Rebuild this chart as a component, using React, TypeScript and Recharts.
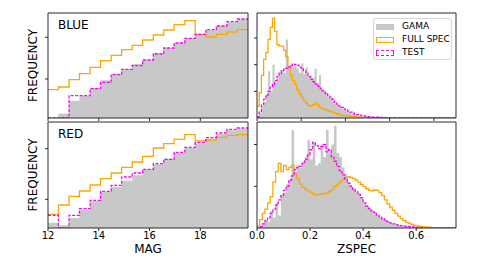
import React from 'react';
import { ComposedChart, Area, Line, XAxis, YAxis, Legend } from 'recharts';

// ---------- DATA ----------
// Magnitude histogram bin edges (left panels)
const magEdges = [12.0, 12.41, 12.83, 13.24, 13.66, 14.07, 14.49, 14.9, 15.32, 15.73, 16.15, 16.56, 16.97, 17.39, 17.8, 18.22, 18.63, 19.05, 19.46, 19.88];
const magTicks = [12, 14, 16, 18];
const magTickLabels = ['12', '14', '16', '18'];

// BLUE, MAG histograms (relative frequency, log-like units)
const blueMagGama = [0, 13, 52, 67, 90, 113, 133, 147, 162, 175, 195, 210, 225, 240, 250, 263, 277, 287, 297];
const blueMagFull = [85, 93, 115, 133, 152, 172, 188, 205, 218, 234, 249, 264, 280, 292, 251, 243, 251, 258, 265];
const blueMagTest = [0, 0, 67, 67, 88, 107, 130, 146, 157, 174, 192, 210, 225, 239, 251, 265, 276, 289, 297];

// RED, MAG histograms
const redMagGama = [16, 8, 30, 55, 81, 108, 123, 142, 158, 176, 191, 208, 225, 240, 253, 268, 282, 293, 298];
const redMagFull = [41, 69, 95, 111, 129, 148, 165, 182, 198, 215, 240, 253, 266, 280, 261, 264, 272, 278, 280];
const redMagTest = [38, 0, 38, 58, 83, 110, 128, 153, 165, 176, 193, 206, 227, 242, 256, 271, 285, 296, 300];

// Redshift bin edges
const zEdgesBlue = [
  0, 0.01, 0.02, 0.03, 0.04, 0.05, 0.06, 0.07, 0.08, 0.09,
  0.1, 0.11, 0.12, 0.13, 0.14, 0.15, 0.16, 0.17, 0.18, 0.19,
  0.2, 0.21, 0.22, 0.23, 0.24, 0.25, 0.26, 0.27, 0.28, 0.29,
  0.3, 0.31, 0.32, 0.33, 0.34, 0.35, 0.36, 0.37, 0.38, 0.39,
  0.4, 0.41, 0.42, 0.43, 0.44, 0.45, 0.46, 0.47, 0.48, 0.49,
  0.5, 0.51, 0.52, 0.53, 0.54, 0.55, 0.56, 0.57, 0.58, 0.59,
  0.6, 0.61, 0.62, 0.63, 0.64, 0.65, 0.66, 0.67, 0.68, 0.69,
  0.7, 0.71, 0.72, 0.73, 0.74, 0.75, 0.76, 0.77, 0.78, 0.79,
  0.8, 0.81, 0.82, 0.83, 0.84, 0.85, 0.86, 0.87, 0.88, 0.89,
  0.9,
];
const zEdgesRed = [
  0, 0.01, 0.02, 0.03, 0.04, 0.05, 0.06, 0.07, 0.08, 0.09,
  0.1, 0.11, 0.12, 0.13, 0.14, 0.15, 0.16, 0.17, 0.18, 0.19,
  0.2, 0.21, 0.22, 0.23, 0.24, 0.25, 0.26, 0.27, 0.28, 0.29,
  0.3, 0.31, 0.32, 0.33, 0.34, 0.35, 0.36, 0.37, 0.38, 0.39,
  0.4, 0.41, 0.42, 0.43, 0.44, 0.45, 0.46, 0.47, 0.48, 0.49,
  0.5, 0.51, 0.52, 0.53, 0.54, 0.55, 0.56, 0.57, 0.58, 0.59,
  0.6, 0.61, 0.62, 0.63, 0.64, 0.65, 0.66, 0.67, 0.68, 0.69,
  0.7, 0.71, 0.72, 0.73, 0.74, 0.75,
];
const zTicksBlue = [0, 0.2, 0.4, 0.6, 0.8];
const zTicksRed = [0, 0.2, 0.4, 0.6];
const zTickLabels = ['0.0', '0.2', '0.4', '0.6'];

// BLUE, ZSPEC densities
const blueZGama = [
  0.05, 0.2, 0.45, 0.6, 0.9, 1.75, 1.0, 2.0, 1.3, 1.5,
  1.7, 1.8, 1.7, 2.95, 1.85, 2.0, 1.9, 1.95, 1.85, 1.7,
  2.05, 1.65, 1.9, 1.5, 1.6, 1.5, 1.85, 1.3, 1.6, 1.1,
  1.0, 0.95, 0.8, 0.75, 0.65, 0.55, 0.48, 0.4, 0.36, 0.3,
  0.26, 0.22, 0.18, 0.15, 0.12, 0.1, 0.08, 0.06, 0.05, 0.04,
  0.03, 0.03, 0.02, 0.02, 0.02, 0.02, 0.01, 0.01, 0.01, 0.01,
  0, 0, 0, 0, 0, 0, 0, 0, 0, 0,
  0, 0, 0, 0, 0, 0, 0, 0, 0, 0,
  0, 0, 0, 0, 0, 0, 0, 0, 0, 0,
];
const blueZFull = [
  0.45, 0.95, 1.6, 2.2, 2.45, 2.95, 3.4, 3.75, 3.25, 2.75,
  2.7, 2.7, 2.55, 2.3, 1.9, 1.6, 1.4, 1.25, 1.05, 0.9,
  0.78, 0.65, 0.55, 0.47, 0.45, 0.5, 0.56, 0.5, 0.42, 0.36,
  0.33, 0.3, 0.27, 0.24, 0.21, 0.18, 0.15, 0.13, 0.11, 0.1,
  0.08, 0.07, 0.06, 0.05, 0.04, 0.03, 0.03, 0.02, 0.02, 0.01,
  0.01, 0, 0, 0, 0, 0, 0, 0, 0, 0,
  0, 0, 0, 0, 0, 0, 0, 0, 0, 0,
  0, 0, 0, 0, 0, 0, 0, 0, 0, 0,
  0, 0, 0, 0, 0, 0, 0, 0, 0, 0,
];
const blueZTest = [
  0.05, 0.25, 0.5, 0.7, 0.85, 1.0, 1.15, 1.25, 1.4, 1.55,
  1.68, 1.78, 1.82, 1.86, 1.92, 1.97, 2.03, 2.0, 1.98, 1.9,
  1.84, 1.78, 1.7, 1.55, 1.45, 1.36, 1.27, 1.2, 1.12, 1.03,
  0.97, 0.9, 0.84, 0.78, 0.7, 0.6, 0.52, 0.45, 0.4, 0.34,
  0.3, 0.26, 0.22, 0.18, 0.15, 0.13, 0.11, 0.09, 0.08, 0.06,
  0.05, 0.04, 0.03, 0.03, 0.03, 0.02, 0.02, 0.02, 0.01, 0.01,
  0, 0, 0, 0, 0, 0, 0, 0, 0, 0,
  0, 0, 0, 0, 0, 0, 0, 0, 0, 0,
  0, 0, 0, 0, 0, 0, 0, 0, 0, 0,
];

// RED, ZSPEC densities
const redZGama = [
  0.05, 0.1, 0.25, 0.4, 0.3, 0.8, 0.5, 1.2, 0.6, 1.6,
  1.7, 2.1, 2.3, 4.7, 2.7, 3.0, 2.9, 3.2, 3.4, 4.2,
  3.3, 4.1, 3.0, 3.1, 4.0, 3.4, 4.7, 3.6, 4.0, 4.9,
  3.6, 3.4, 2.9, 2.6, 2.2, 2.0, 1.9, 1.7, 1.65, 1.4,
  1.2, 1.1, 1.0, 0.85, 0.75, 0.62, 0.5, 0.45, 0.38, 0.3,
  0.25, 0.2, 0.16, 0.12, 0.1, 0.08, 0.07, 0.05, 0.04, 0.03,
  0.02, 0.01, 0, 0, 0, 0, 0, 0, 0, 0,
  0, 0, 0, 0, 0,
];
const redZFull = [
  0.1, 0.4, 0.7, 0.9, 1.2, 1.5, 2.2, 2.7, 3.1, 2.7,
  3.0, 2.8, 2.9, 3.0, 2.6, 2.35, 2.1, 1.95, 1.85, 1.78,
  1.7, 1.62, 1.58, 1.62, 1.65, 1.62, 1.68, 1.75, 1.85, 2.0,
  2.1, 2.2, 2.32, 2.4, 2.46, 2.42, 2.38, 2.3, 2.2, 2.08,
  1.98, 1.88, 1.8, 1.78, 1.82, 1.8, 1.7, 1.55, 1.35, 1.15,
  1.0, 0.85, 0.7, 0.57, 0.45, 0.36, 0.28, 0.22, 0.17, 0.13,
  0.1, 0.08, 0.06, 0.05, 0.04, 0.03, 0.02, 0.02, 0.01, 0.01,
  0, 0, 0, 0, 0,
];
const redZTest = [
  0, 0.07, 0.2, 0.35, 0.5, 0.7, 0.9, 1.1, 1.35, 1.55,
  1.8, 2.0, 2.3, 2.5, 2.8, 2.9, 2.95, 3.1, 3.3, 3.5,
  3.75, 4.1, 3.95, 3.8, 3.9, 4.0, 3.65, 3.75, 3.4, 3.2,
  2.95, 2.75, 2.55, 2.35, 2.15, 2.0, 1.85, 1.75, 1.6, 1.45,
  1.2, 1.05, 0.92, 0.82, 0.75, 0.62, 0.52, 0.45, 0.38, 0.3,
  0.25, 0.2, 0.16, 0.13, 0.11, 0.09, 0.08, 0.07, 0.05, 0.04,
  0.03, 0.02, 0.01, 0, 0, 0, 0, 0, 0, 0,
  0, 0, 0, 0, 0,
];

const seriesKeys = ['gama', 'full', 'test'];
const seriesNames = { gama: 'GAMA', full: 'FULL SPEC', test: 'TEST' };

// ---------- STYLE ----------
const FONT = '"DejaVu Sans", sans-serif';
const GRAY = '#c8c8c8';
const ORANGE = '#ffa500';
const MAGENTA = '#ff00ff';
const SPINE = '#2b2b2b';

type Row = { x: number; gama: number; full: number; test: number };

function buildRows(edges: number[], gama: number[], full: number[], test: number[]): Row[] {
  return edges.map((x, i) => {
    const j = Math.min(i, gama.length - 1);
    return { x, gama: gama[j], full: full[j], test: test[j] };
  });
}

const NoTickLabel = () => <g />;

const YTitle = (props: any) => {
  const vb = props.viewBox || { x: 0, y: 0, width: 0, height: 0 };
  const x = vb.x + props.dxFromLeft;
  const y = vb.y + vb.height / 2;
  return (
    <text x={x} y={y} transform={`rotate(-90, ${x}, ${y})`} textAnchor="middle" fontSize={12} fontFamily={FONT} fill="#000">
      {props.text}
    </text>
  );
};

const XTitle = (props: any) => {
  const vb = props.viewBox || { x: 0, y: 0, width: 0, height: 0 };
  return (
    <text x={vb.x + vb.width / 2} y={vb.y + 25} textAnchor="middle" fontSize={12} fontFamily={FONT} fill="#000">
      {props.text}
    </text>
  );
};

const PanelTitle = (props: any) => {
  const vb = props.viewBox || { x: 0, y: 0, width: 0, height: 0 };
  return (
    <text x={vb.x + 10} y={vb.y + 17} fontSize={12} fontFamily={FONT} fill="#000">
      {props.text}
    </text>
  );
};

const legendPatch: Record<string, React.CSSProperties> = {
  gama: { background: GRAY, border: `1px solid ${GRAY}` },
  full: { background: '#fff', border: `1px solid ${ORANGE}` },
  test: { background: '#fff', border: `1px dashed ${MAGENTA}` },
};

const LegendBox = (props: any) => {
  const payload = ((props.payload || []) as any[]).slice().sort(
    (a, b) => seriesKeys.indexOf(String(a.dataKey)) - seriesKeys.indexOf(String(b.dataKey))
  );
  return (
    <div
      style={{
        boxSizing: 'border-box',
        width: 79,
        height: 42,
        border: '1px solid #d6d6d6',
        borderRadius: 3,
        background: 'rgba(255,255,255,0.85)',
        paddingTop: 1,
        fontFamily: FONT,
        fontSize: 9,
        color: '#000',
      }}
    >
      {payload.map((p) => (
        <div key={String(p.dataKey)} style={{ display: 'flex', alignItems: 'center', height: 13, lineHeight: '13px' }}>
          <div style={{ boxSizing: 'border-box', width: 18, height: 6, marginLeft: 2, marginRight: 8, ...legendPatch[String(p.dataKey)] }} />
          <span style={{ whiteSpace: 'nowrap' }}>{p.value}</span>
        </div>
      ))}
    </div>
  );
};

type PanelProps = {
  left: number;
  top: number;
  padL: number;
  padT: number;
  padR: number;
  padB: number;
  plotW: number;
  plotH: number;
  rows: Row[];
  xDomain: [number, number];
  xTicks: number[];
  xTickLabels?: string[];
  yDomain: [number, number];
  yTicks: number[];
  xTitle?: string;
  yTitle?: string;
  title?: string;
  legend?: boolean;
};

function Panel(p: PanelProps) {
  const width = p.padL + p.plotW + p.padR;
  const height = p.padT + p.plotH + p.padB;
  const tickFormatter = (v: number) => {
    if (!p.xTickLabels) return '';
    const idx = p.xTicks.indexOf(v);
    return idx >= 0 && idx < p.xTickLabels.length ? p.xTickLabels[idx] : '';
  };
  return (
    <div style={{ position: 'absolute', left: p.left, top: p.top, width, height }}>
      <ComposedChart width={width} height={height} data={p.rows} margin={{ top: p.padT - 1, right: p.padR - 1, bottom: 0, left: 0 }}>
        <XAxis
          xAxisId="b"
          dataKey="x"
          type="number"
          domain={p.xDomain}
          ticks={p.xTicks}
          interval={0}
          allowDataOverflow
          height={p.padB}
          tickSize={3}
          tickMargin={1}
          stroke={SPINE}
          tickFormatter={tickFormatter}
          tick={p.xTickLabels ? { fontSize: 10, fill: '#000', fontFamily: FONT } : <NoTickLabel />}
          label={p.xTitle ? <XTitle text={p.xTitle} /> : undefined}
        />
        <XAxis
          xAxisId="t"
          orientation="top"
          type="number"
          domain={p.xDomain}
          allowDataOverflow
          height={1}
          tick={false}
          tickLine={false}
          stroke={SPINE}
          label={p.title ? <PanelTitle text={p.title} /> : undefined}
        />
        <YAxis
          yAxisId="l"
          type="number"
          domain={p.yDomain}
          ticks={p.yTicks}
          interval={0}
          allowDataOverflow
          width={p.padL}
          tickSize={3}
          tick={<NoTickLabel />}
          stroke={SPINE}
          label={p.yTitle ? <YTitle text={p.yTitle} dxFromLeft={37} /> : undefined}
        />
        <YAxis
          yAxisId="r"
          orientation="right"
          type="number"
          domain={p.yDomain}
          allowDataOverflow
          width={1}
          tick={false}
          tickLine={false}
          stroke={SPINE}
        />
        <Area
          xAxisId="b"
          yAxisId="l"
          type="stepAfter"
          dataKey="gama"
          name={seriesNames.gama}
          stroke="none"
          fill={GRAY}
          fillOpacity={1}
          isAnimationActive={false}
          activeDot={false}
        />
        <Line
          xAxisId="b"
          yAxisId="l"
          type="stepAfter"
          dataKey="full"
          name={seriesNames.full}
          stroke={ORANGE}
          strokeWidth={1.3}
          dot={false}
          activeDot={false}
          isAnimationActive={false}
        />
        <Line
          xAxisId="b"
          yAxisId="l"
          type="stepAfter"
          dataKey="test"
          name={seriesNames.test}
          stroke={MAGENTA}
          strokeWidth={1.3}
          strokeDasharray="3 1.5"
          dot={false}
          activeDot={false}
          isAnimationActive={false}
        />
        {p.legend ? (
          <Legend
            layout="horizontal"
            align="center"
            verticalAlign="middle"
            width={79}
            wrapperStyle={{ left: 124, top: 18, width: 79, height: 42, margin: 0, padding: 0 }}
            content={<LegendBox />}
          />
        ) : null}
      </ComposedChart>
    </div>
  );
}

export default function App() {
  const blueMag = buildRows(magEdges, blueMagGama, blueMagFull, blueMagTest);
  const redMag = buildRows(magEdges, redMagGama, redMagFull, redMagTest);
  const blueZ = buildRows(zEdgesBlue, blueZGama, blueZFull, blueZTest);
  const redZ = buildRows(zEdgesRed, redZGama, redZFull, redZTest);
  return (
    <div style={{ position: 'absolute', left: 0, top: 0, width: 480, height: 267, background: '#fff', overflow: 'hidden', fontFamily: FONT }}>
      <Panel
        left={0} top={0} padL={48} padT={13} padR={2} padB={5} plotW={200} plotH={105}
        rows={blueMag} xDomain={[12, 19.88]} xTicks={magTicks}
        yDomain={[0, 315]} yTicks={[117, 242]}
        yTitle="FREQUENCY" title="BLUE"
      />
      <Panel
        left={0} top={110} padL={48} padT={12} padR={2} padB={39} plotW={200} plotH={106}
        rows={redMag} xDomain={[12, 19.88]} xTicks={magTicks} xTickLabels={magTickLabels}
        yDomain={[0, 318]} yTicks={[86, 238]}
        yTitle="FREQUENCY" xTitle="MAG" title="RED"
      />
      <Panel
        left={249} top={0} padL={8} padT={13} padR={10} padB={5} plotW={199} plotH={105}
        rows={blueZ} xDomain={[0, 0.9]} xTicks={zTicksBlue}
        yDomain={[0, 3.94]} yTicks={[1, 2, 3]}
        legend
      />
      <Panel
        left={249} top={110} padL={8} padT={12} padR={10} padB={39} plotW={199} plotH={106}
        rows={redZ} xDomain={[0, 0.75]} xTicks={zTicksRed} xTickLabels={zTickLabels}
        yDomain={[0, 5.08]} yTicks={[2, 4]}
        xTitle="ZSPEC"
      />
    </div>
  );
}
